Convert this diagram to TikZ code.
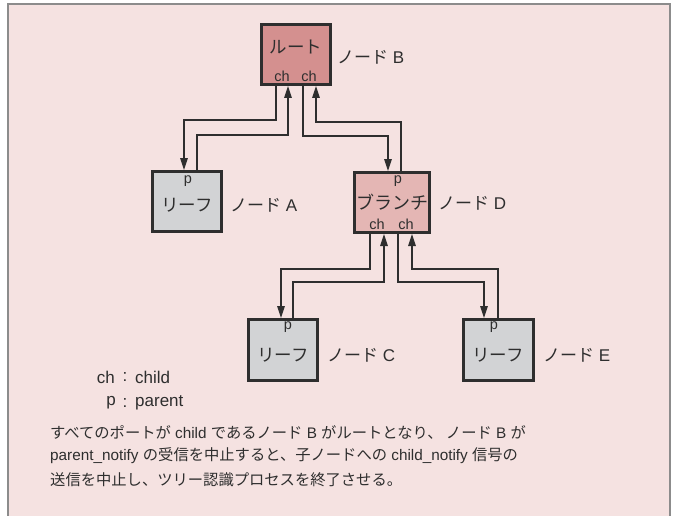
\documentclass[tikz,border=0pt]{standalone}
\usepackage{fontspec}
\setmainfont{Liberation Sans}
\newfontfamily\jpf{Noto Sans CJK JP}
\usetikzlibrary{arrows.meta}
\definecolor{bgpink}{HTML}{F5E2E1}
\definecolor{rootfill}{HTML}{D4908F}
\definecolor{branchfill}{HTML}{E4B6B4}
\definecolor{leaffill}{HTML}{D2D3D5}
\definecolor{ink}{HTML}{2E2E2E}
\definecolor{framegray}{HTML}{8C8C8C}
\begin{document}
\begin{tikzpicture}[x=1pt,y=-1pt,
  box/.style={draw=ink, line width=3pt, minimum height=60pt, inner sep=0pt},
  conn/.style={draw=ink, line width=1.2pt, -{Triangle[length=12pt,width=7.5pt]}},
  big/.style={text=ink, inner sep=0pt, font=\jpf\fontsize{17.5}{20}\selectfont},
  port/.style={text=ink, inner sep=0pt, font=\fontsize{14.5}{16}\selectfont},
  lbl/.style={text=ink, inner sep=0pt, anchor=west, font=\fontsize{17}{19}\selectfont},
  para/.style={text=ink, inner sep=0pt, anchor=west, font=\fontsize{15.3}{18}\selectfont}]
\useasboundingbox (0,0) rectangle (677,516);
\fill[bgpink] (8,4) rectangle (670,516);
\draw[framegray, line width=2pt] (8,516) -- (8,4) -- (670,4) -- (670,516);

% boxes
\node[box, fill=rootfill, minimum width=69pt] (B) at (296,54.5) {};
\node[box, fill=leaffill, minimum width=69pt] (A) at (187,201.5) {};
\node[box, fill=branchfill, minimum width=75pt] (D) at (392,202.5) {};
\node[box, fill=leaffill, minimum width=69pt, minimum height=61pt] (C) at (283,350) {};
\node[box, fill=leaffill, minimum width=70pt, minimum height=61pt] (E) at (498.5,350) {};

% box texts
\node[big] (tB) at (296,47) {ルート};
\node[port] (chB1) at (282,76) {ch};
\node[port] (chB2) at (309,76) {ch};
\node[port] (pA) at (188,181) {p};
\node[big] (tA) at (187,205) {リーフ};
\node[port] (pD) at (398,181) {p};
\node[big, font=\jpf\fontsize{18}{20}\selectfont] (tD) at (392,202) {ブランチ};
\node[port] (chD1) at (377,224) {ch};
\node[port] (chD2) at (406,224) {ch};
\node[port] (pC) at (288,327) {p};
\node[big] (tC) at (283,355) {リーフ};
\node[port] (pE) at (494,327) {p};
\node[big] (tE) at (498,355) {リーフ};

% side labels
\node[lbl] (lB) at (337,57) {{\jpf ノード} B};
\node[lbl] (lA) at (230,205) {{\jpf ノード} A};
\node[lbl] (lD) at (438,203) {{\jpf ノード} D};
\node[lbl] (lC) at (327,355) {{\jpf ノード} C};
\node[lbl] (lE) at (543,355) {{\jpf ノード} E};

% connectors
\draw[conn] ([xshift=-20pt]B.south) -- ++(0,34) -| ([xshift=-3pt]A.north);
\draw[conn] ([xshift=10pt]A.north) -- ++(0,-35) -| ([xshift=-8pt]B.south);
\draw[conn] ([xshift=7pt]B.south) -- ++(0,50) -| ([xshift=-4pt]D.north);
\draw[conn] ([xshift=9pt]D.north) -- ++(0,-49) -| ([xshift=20pt]B.south);
\draw[conn] ([xshift=-22pt]D.south) -- ++(0,35) -| ([xshift=-2pt]C.north);
\draw[conn] ([xshift=10pt]C.north) -- ++(0,-36) -| ([xshift=-8pt]D.south);
\draw[conn] ([xshift=6pt]D.south) -- ++(0,48) -| ([xshift=-14.5pt]E.north);
\draw[conn] ([xshift=-0.5pt]E.north) -- ++(0,-49) -| ([xshift=20pt]D.south);

% legend
\node[lbl, anchor=east] (k1) at (115,377) {ch};
\node[lbl, anchor=center] (k1c) at (125,377) {:};
\node[lbl] (k1b) at (135,377) {child};
\node[lbl, anchor=east] (k2) at (116,403) {p};
\node[lbl, anchor=center] (k2c) at (125,403) {:};
\node[lbl] (k2b) at (135,403) {parent};

% paragraph
\node[para] (p1) at (50,432) {{\jpf すべてのポートが} child {\jpf であるノード} B {\jpf がルートとなり、 ノード} B {\jpf が}};
\node[para] (p2) at (50,456) {parent\_notify {\jpf の受信を中止すると、子ノードへの} child\_notify {\jpf 信号の}};
\node[para] (p3) at (50,480) {{\jpf 送信を中止し、ツリー認識プロセスを終了させる。}};
\end{tikzpicture}
\end{document}
